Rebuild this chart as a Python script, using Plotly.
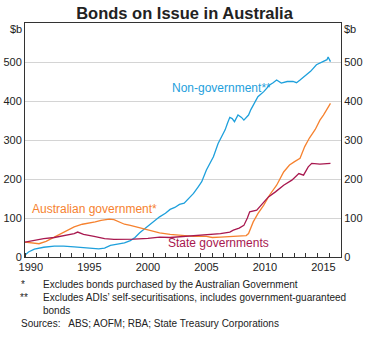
import plotly.graph_objects as go

# Non-government bonds ($b)
nongov_x = [1990.0, 1990.3, 1990.8, 1991.6, 1992.5, 1993.3, 1994.2, 1995.0, 1995.6, 1996.3,
            1996.8, 1997.3, 1997.9, 1998.5, 1999.0, 1999.4, 1999.8, 2000.3, 2000.7, 2001.1,
            2001.5, 2002.0, 2002.4, 2002.8, 2003.2, 2003.6, 2004.0, 2004.4, 2004.8, 2005.1,
            2005.5, 2005.8, 2006.1, 2006.5, 2006.9, 2007.1, 2007.3, 2007.5, 2007.7, 2007.9,
            2008.2, 2008.5, 2008.7, 2009.1, 2009.3, 2009.5, 2009.9, 2010.4, 2010.9, 2011.2,
            2011.5, 2011.9, 2012.4, 2012.9, 2013.2, 2013.5, 2013.9, 2014.4, 2014.9, 2015.4,
            2015.8, 2015.9, 2016.1]
nongov_y = [5, 13, 20, 25, 28, 28, 26, 24, 21, 21,
            23, 30, 33, 36, 42, 50, 62, 74, 84, 94,
            103, 112, 122, 127, 135, 138, 150, 163, 180, 193,
            223, 240, 257, 291, 313, 326, 343, 358, 355, 347,
            364, 358, 351, 364, 378, 390, 411, 424, 441, 447,
            454, 446, 450, 450, 447, 454, 463, 476, 493, 501,
            506, 513, 501]

# Australian government bonds ($b)
ausgov_x = [1990.0, 1990.5, 1991.2, 1991.8, 1992.5, 1993.3, 1994.2, 1994.9, 1995.6, 1996.0,
            1996.5, 1997.2, 1997.6, 1997.9, 1998.5, 1999.0, 1999.8, 2000.7, 2001.5, 2002.4,
            2003.2, 2004.4, 2005.5, 2006.0, 2006.7, 2007.5, 2008.3, 2008.9, 2009.1, 2009.3,
            2009.5, 2009.9, 2010.4, 2010.9, 2011.5, 2012.1, 2012.6, 2013.0, 2013.5, 2013.9,
            2014.3, 2014.8, 2015.2, 2015.5, 2015.8, 2016.1]
ausgov_y = [38, 37, 34, 40, 51, 64, 77, 84, 87, 90,
            94, 97, 96, 92, 84, 81, 75, 67, 62, 58,
            56, 53, 53, 50, 51, 52, 53, 55, 60, 75,
            90, 111, 133, 159, 184, 218, 236, 244, 253, 283,
            305, 327, 351, 364, 381, 394]

# State government bonds ($b)
state_x = [1990.0, 1990.8, 1991.6, 1992.5, 1993.0, 1993.6, 1994.2, 1994.5, 1995.0, 1995.9,
           1996.8, 1997.6, 1998.5, 1999.3, 2000.5, 2001.5, 2002.4, 2003.2, 2003.8, 2004.6,
           2005.5, 2006.7, 2007.5, 2007.8, 2008.3, 2008.7, 2009.0, 2009.2, 2009.8, 2010.4,
           2010.8, 2011.4, 2012.1, 2012.8, 2013.4, 2013.8, 2014.2, 2014.5, 2015.2, 2016.1]
state_y = [38, 43, 47, 50, 53, 58, 60, 64, 58, 53,
           47, 45, 45, 46, 48, 51, 50, 52, 53, 54,
           57, 60, 64, 69, 74, 81, 100, 116, 120, 141,
           154, 167, 184, 197, 214, 210, 231, 240, 238, 240]

year_labels = [1990, 1995, 2000, 2005, 2010, 2015]
y_ticks = [0, 100, 200, 300, 400, 500]

BLUE = "#1ea0dc"
ORANGE = "#f6822f"
RED = "#a8184f"
FONT = "Liberation Sans, Arial, sans-serif"

fig = go.Figure()
fig.add_trace(go.Scatter(x=nongov_x, y=nongov_y, mode="lines",
                         line=dict(color=BLUE, width=1.3), showlegend=False))
fig.add_trace(go.Scatter(x=ausgov_x, y=ausgov_y, mode="lines",
                         line=dict(color=ORANGE, width=1.3), showlegend=False))
fig.add_trace(go.Scatter(x=state_x, y=state_y, mode="lines",
                         line=dict(color=RED, width=1.3), showlegend=False))
# invisible trace for right axis
fig.add_trace(go.Scatter(x=[1990], y=[0], yaxis="y2", mode="markers",
                         marker=dict(opacity=0), showlegend=False, hoverinfo="skip"))

fig.update_layout(
    width=369, height=339,
    margin=dict(l=25, r=28, t=23, b=82, autoexpand=False),
    paper_bgcolor="white", plot_bgcolor="white",
    font=dict(family=FONT, size=11, color="#222222"),
    title=dict(text="<b>Bonds on Issue in Australia</b>", x=0.5, xanchor="center",
               y=0.962, yanchor="middle", font=dict(size=16.5, color="#222222")),
    xaxis=dict(range=[1990, 2017], tickmode="array",
               tickvals=[y + 0.5 for y in year_labels],
               ticktext=[str(y) for y in year_labels],
               ticks="", showgrid=False, zeroline=False, automargin=False,
               showline=True, linecolor="#333333", linewidth=1, mirror=True,
               minor=dict(tickmode="array", tickvals=list(range(1990, 2018)),
                          ticks="inside", ticklen=4, tickcolor="#333333", showgrid=False),
               tickfont=dict(size=11)),
    yaxis=dict(range=[0, 600], tickmode="array", tickvals=y_ticks,
               ticktext=[str(v) for v in y_ticks], ticks="", automargin=False,
               showgrid=True, gridcolor="#d4d4d4", gridwidth=1, zeroline=False,
               showline=True, linecolor="#333333", linewidth=1,
               tickfont=dict(size=11)),
    yaxis2=dict(range=[0, 600], overlaying="y", side="right", tickmode="array",
                tickvals=y_ticks, ticktext=[str(v) for v in y_ticks], ticks="",
                automargin=False,
                showgrid=False, zeroline=False, showline=True, linecolor="#333333",
                linewidth=1, tickfont=dict(size=11)),
)

ann = [
    dict(text="$b", x=0, xanchor="right", y=1, yanchor="top", xshift=-1, yshift=2),
    dict(text="$b", x=1, xanchor="left", y=1, yanchor="top", xshift=1, yshift=2),
    dict(text="Non-government**", x=(221 - 25) / 316, y=(257 - 88) / 234, xanchor="center",
         yanchor="middle", font=dict(color=BLUE, size=12)),
    dict(text="Australian government*", x=(94 - 25) / 316, y=(257 - 209) / 234,
         xanchor="center", yanchor="middle", font=dict(color=ORANGE, size=12)),
    dict(text="State governments", x=(218 - 25) / 316, y=(257 - 243) / 234,
         xanchor="center", yanchor="middle", font=dict(color=RED, size=12)),
    dict(text="*", x=(19 - 25) / 316, y=(257 - 284) / 234, xanchor="left", yanchor="middle",
         font=dict(size=10)),
    dict(text="Excludes bonds purchased by the Australian Government",
         x=(41 - 25) / 316, y=(257 - 284) / 234, xanchor="left", yanchor="middle",
         font=dict(size=10)),
    dict(text="**", x=(18 - 25) / 316, y=(257 - 297) / 234, xanchor="left", yanchor="middle",
         font=dict(size=10)),
    dict(text="Excludes ADIs’ self-securitisations, includes government-guaranteed",
         x=(41 - 25) / 316, y=(257 - 297) / 234, xanchor="left", yanchor="middle",
         font=dict(size=10)),
    dict(text="bonds", x=(41 - 25) / 316, y=(257 - 310) / 234, xanchor="left",
         yanchor="middle", font=dict(size=10)),
    dict(text="Sources:   ABS; AOFM; RBA; State Treasury Corporations",
         x=(19 - 25) / 316, y=(257 - 323) / 234, xanchor="left", yanchor="middle",
         font=dict(size=10)),
]
for a in ann:
    a.setdefault("xref", "paper")
    a.setdefault("yref", "paper")
    a.setdefault("showarrow", False)
    fig.add_annotation(**a)

fig.write_html("out.html")
